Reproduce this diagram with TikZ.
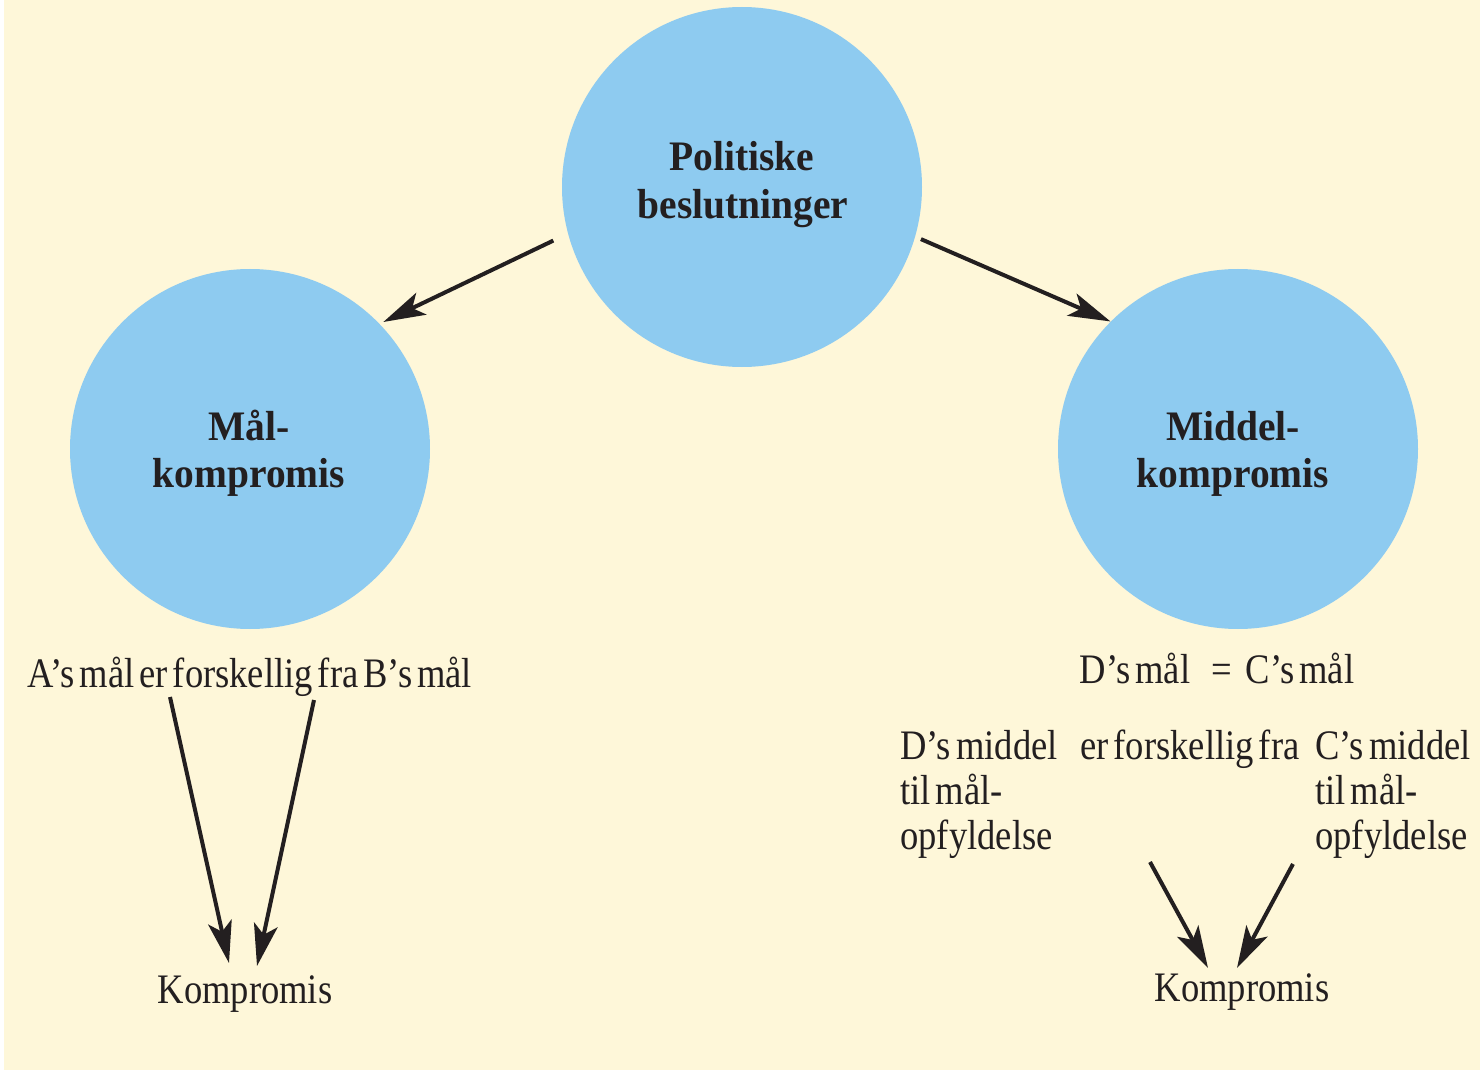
\documentclass[tikz,border=0pt]{standalone}
\usepackage{fontspec}
\setmainfont{Liberation Serif}[FakeStretch=0.87, WordSpace=0.55]
\newfontfamily\headfont{Liberation Serif}[FakeStretch=0.94, WordSpace=0.6]
\usetikzlibrary{arrows.meta}
\definecolor{cream}{HTML}{FEF7D9}
\definecolor{skyblue}{HTML}{8ECBF0}
\definecolor{ink}{HTML}{231F20}
\begin{document}
\begin{tikzpicture}[x=0.5pt, y=-0.5pt,
  bubble/.style={circle, fill=skyblue, minimum size=180pt, inner sep=0pt},
  head/.style={font=\headfont\bfseries\fontsize{21pt}{24pt}\selectfont, text=ink, inner sep=0pt, anchor=base},
  txt/.style={font=\fontsize{21pt}{23pt}\selectfont, text=ink, inner sep=0pt},
  link/.style={draw=ink, line width=2pt, -{Stealth[length=21pt, width=12pt, inset=5pt]}}
]
% page and background
\useasboundingbox (0,0) rectangle (1480,1070);
\fill[white] (0,0) rectangle (1480,1070);
\fill[cream] (4,0) rectangle (1480,1070);

% the three circles
\node[bubble] (pol) at (742,187) {};
\node[bubble] (mal) at (250,449) {};
\node[bubble] (mid) at (1238,449) {};

\node[head] (pol1) at (742,170) {Politiske};
\node[head] (pol2) at (743,219) {beslutninger};
\node[head] (mal1) at (249,440) {Mål-};
\node[head] (mal2) at (249,487) {kompromis};
\node[head] (mid1) at (1233,440) {Middel-};
\node[head] (mid2) at (1233,487) {kompromis};

% arrows from the top circle
\draw[link, shorten <=8pt, shorten >=2pt] (pol.195) -- (mal.44);
\draw[link, shorten <=3pt] (pol.-16) -- (mid.135);

% left branch: goal compromise
\node[txt, anchor=base] (ab) at (250,687) {A’s mål er forskellig fra B’s mål};
\node[txt, anchor=base] (komp1) at (245,1003) {Kompromis};
\coordinate (ab1) at (170,697);
\coordinate (ab2) at (314,700);
\coordinate (k1a) at (229,963);
\coordinate (k1b) at (257,966);
\draw[link] (ab1) -- (k1a);
\draw[link] (ab2) -- (k1b);

% right branch: means compromise
\node[txt, anchor=base] (dmal) at (1135,683) {D’s mål};
\node[txt, anchor=base] (eq) at (1222,683) {=};
\node[txt, anchor=base] (cmal) at (1300,683) {C’s mål};

\node[txt, anchor=base west] (d1) at (900,759) {D’s middel};
\node[txt, anchor=base west] (d2) at (900,804) {til mål-};
\node[txt, anchor=base west] (d3) at (900,849) {opfyldelse};
\node[txt, anchor=base west] (erf) at (1080,759) {er forskellig fra};
\node[txt, anchor=base west] (c1) at (1315,759) {C’s middel};
\node[txt, anchor=base west] (c2) at (1315,804) {til mål-};
\node[txt, anchor=base west] (c3) at (1315,849) {opfyldelse};

\node[txt, anchor=base] (komp2) at (1242,1001) {Kompromis};
\coordinate (r1) at (1150,862);
\coordinate (r2) at (1293,864);
\coordinate (k2a) at (1208,968);
\coordinate (k2b) at (1237,968);
\draw[link] (r1) -- (k2a);
\draw[link] (r2) -- (k2b);
\end{tikzpicture}
\end{document}
